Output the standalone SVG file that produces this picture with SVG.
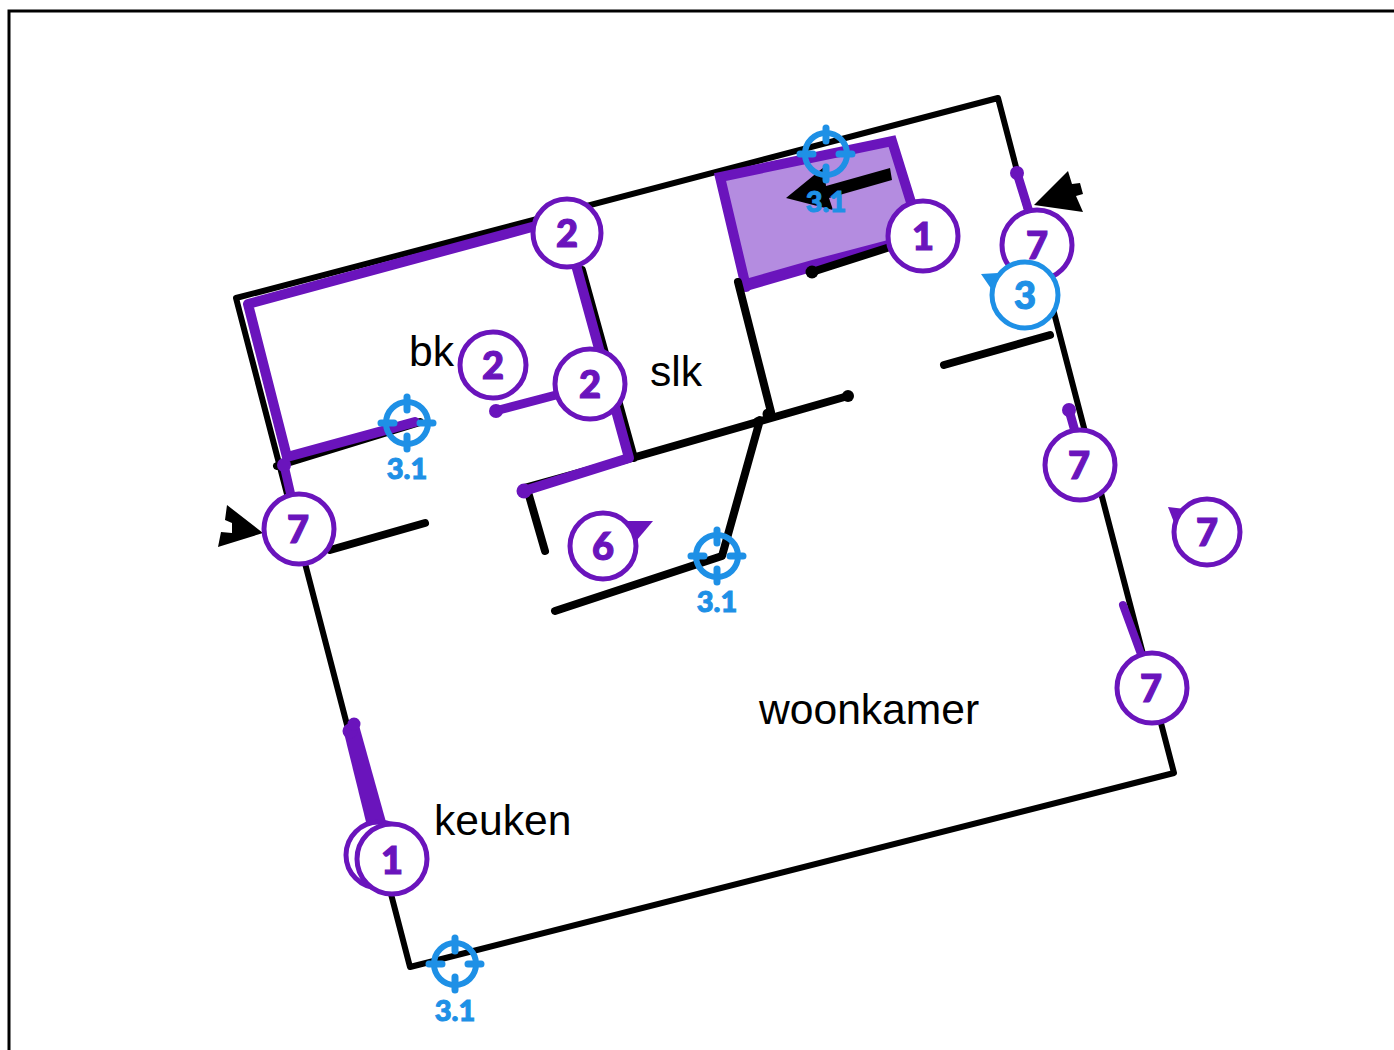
<svg xmlns="http://www.w3.org/2000/svg" width="1394" height="1050" viewBox="0 0 1394 1050">
<defs>
<style>
.k{fill:none;stroke:#000;stroke-linecap:round;stroke-linejoin:round}
.p{fill:none;stroke:#6a14bc;stroke-linecap:round;stroke-linejoin:round}
.dot{fill:#6a14bc}
.c{fill:#fff;stroke:#6a14bc;stroke-width:5}
.cb{fill:#fff;stroke:#1e90e6;stroke-width:5}
.n{font-family:Lato,"Liberation Sans",sans-serif;font-weight:900;font-size:38px;text-anchor:middle;fill:#6a14bc;stroke:#6a14bc;stroke-width:1.2}
.nb{fill:#1e90e6;stroke:#1e90e6}
.t{font-family:Lato,"Liberation Sans",sans-serif;font-weight:900;font-size:29px;text-anchor:middle;fill:#1e90e6;stroke:#1e90e6;stroke-width:1}
.l{font-family:"Liberation Sans",Arial,sans-serif;font-size:42.6px;fill:#000}
.tg{fill:none;stroke:#1e90e6}
</style>
<g id="target"><circle class="tg" r="21" stroke-width="6"/><path class="tg" stroke-width="7" stroke-linecap="round" d="M0-26V-13M0 26V13M-26 0H-13M26 0H13"/></g>
</defs>
<rect x="9" y="11" width="1500" height="1200" fill="none" stroke="#000" stroke-width="3"/>
<g id="connectors">
<path class="k" stroke-width="6" d="M236 298L998 98L1174 773L410 967Z"/>
<path d="M720 177L892 141L916 226L887 242L746 287Z" fill="#b48ce0"/>
<path class="p" stroke-width="10" style="stroke-linejoin:miter" d="M746 287L720 177L892 141L914 212"/>
<path d="M743 292L742 280L812 260L888 240L888 247L812 272Z" class="dot"/>
<path class="k" stroke-width="8" d="M812 272L890 247M738 282L771 412M632 458L848 396M760 420L722 556L555 611M944 365L1050 335M330 550L425 523M277 466L420 422M582 270L634 458M524 488L632 458M528 492L545 551"/>
<circle cx="812" cy="272" r="6.5"/><circle cx="848" cy="396" r="6"/><circle cx="768" cy="414" r="5.5"/><circle cx="758" cy="422" r="5"/>
<path class="p" stroke-width="10" d="M532 227L248 304L287 457L415 422"/>
<path class="p" stroke-width="10" d="M576 265L629 458L524 491"/>
<circle class="dot" cx="524" cy="491" r="7.5"/>
<path class="p" stroke-width="9" d="M284 465L292 500M495 411L556 395M1017 173L1030 215M1069 410L1076 435"/>
<circle class="dot" cx="284" cy="465" r="7"/><circle class="dot" cx="496" cy="411" r="7"/><circle class="dot" cx="1017" cy="173" r="7"/><circle class="dot" cx="1069" cy="410" r="7"/>
<path class="p" stroke-width="8" d="M1123 605L1145 665"/>
<path d="M344 733L357 718L386 822L367 826Z" class="dot"/><circle class="dot" cx="350" cy="731" r="7.5"/><circle class="dot" cx="354" cy="724" r="6.5"/>
<path d="M786 198L824 167L826 186L890 168L892 180L829 198L833 210Z"/>
<path d="M263 533L227 505L225 520L232 523L232 533L221 532L218 547Z"/>
<path d="M1034 205L1068 171L1072 184L1080 183L1083 194L1076 196L1083 212Z"/>
</g>
<g id="n-keuken-b"><circle class="c" cx="379" cy="855" r="33"/></g>
<g id="n-keuken"><circle class="c" cx="392" cy="859" r="35"/><text class="n" x="392" y="874">1</text></g>
<g id="n-2a"><circle class="c" cx="567" cy="233" r="34"/><text class="n" x="567" y="247">2</text></g>
<g id="n-2b"><circle class="c" cx="493" cy="365" r="33"/><text class="n" x="493" y="379">2</text></g>
<g id="n-2c"><circle class="c" cx="590" cy="384" r="35"/><text class="n" x="590" y="398">2</text></g>
<g id="n-1"><circle class="c" cx="923" cy="236" r="35"/><text class="n" x="923" y="250">1</text></g>
<g id="n-7a"><circle class="c" cx="1037" cy="245" r="35"/><text class="n" x="1037" y="259">7</text></g>
<g id="n-3"><path d="M981 274L998 273L992 290Z" fill="#1e90e6"/><circle class="cb" cx="1025" cy="295" r="33"/><text class="n nb" x="1025" y="309">3</text></g>
<g id="n-7b"><circle class="c" cx="1080" cy="465" r="35"/><text class="n" x="1079" y="479">7</text></g>
<g id="n-7c"><path d="M1168 507L1185 509L1175 525Z" class="dot"/><circle class="c" cx="1207" cy="532" r="33"/><text class="n" x="1207" y="546">7</text></g>
<g id="n-7d"><circle class="c" cx="1152" cy="688" r="35"/><text class="n" x="1151" y="702">7</text></g>
<g id="n-7e"><circle class="c" cx="299" cy="529" r="35"/><text class="n" x="298" y="543">7</text></g>
<g id="n-6"><path d="M627 521L653 521L637 540Z" class="dot"/><circle class="c" cx="603" cy="546" r="33"/><text class="n" x="603" y="560">6</text></g>
<g id="t1"><use href="#target" x="826" y="154"/><text class="t" x="826" y="212">3.1</text></g>
<g id="t2"><use href="#target" x="407" y="423"/><text class="t" x="407" y="479">3.1</text></g>
<g id="t3"><use href="#target" x="717" y="556"/><text class="t" x="717" y="612">3.1</text></g>
<g id="t4"><use href="#target" x="455" y="964"/><text class="t" x="455" y="1021">3.1</text></g>
<text class="l" x="409" y="366">bk</text>
<text class="l" x="650" y="386">slk</text>
<text class="l" x="759" y="724">woonkamer</text>
<text class="l" x="434" y="835">keuken</text>
</svg>
